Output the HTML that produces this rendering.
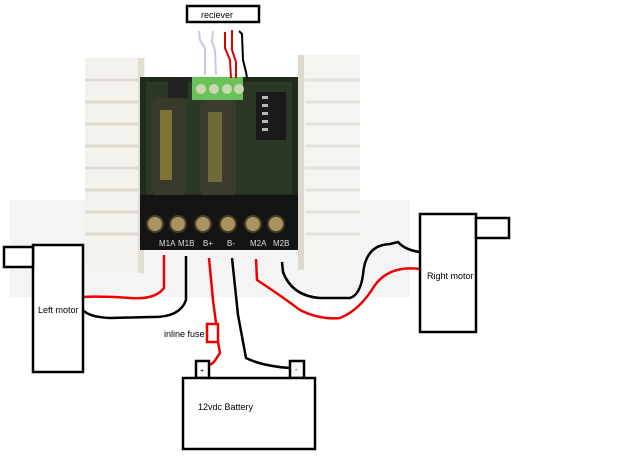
<!DOCTYPE html>
<html><head><meta charset="utf-8"><style>
html,body{margin:0;padding:0;background:#fff;}
svg{display:block;font-family:"Liberation Sans",sans-serif;}
</style></head><body>
<svg width="620" height="456" viewBox="0 0 620 456" xmlns="http://www.w3.org/2000/svg">
<rect width="620" height="456" fill="#fff"/>
<rect x="10" y="200" width="400" height="97" fill="#f4f4f4"/>
<rect x="85" y="58" width="60" height="212" fill="#f4f2ec"/>
<g stroke="#dcdad0" stroke-width="3">
<line x1="85" y1="80" x2="140" y2="80"/><line x1="85" y1="102" x2="140" y2="102"/><line x1="85" y1="124" x2="140" y2="124"/><line x1="85" y1="146" x2="140" y2="146"/><line x1="85" y1="168" x2="140" y2="168"/><line x1="85" y1="190" x2="140" y2="190"/><line x1="85" y1="212" x2="140" y2="212"/><line x1="85" y1="234" x2="140" y2="234"/>
</g>
<rect x="138" y="58" width="6" height="215" fill="#e2ded2"/>
<rect x="298" y="55" width="62" height="215" fill="#f6f4f0"/>
<g stroke="#e4e2dc" stroke-width="3">
<line x1="305" y1="80" x2="360" y2="80"/><line x1="305" y1="102" x2="360" y2="102"/><line x1="305" y1="124" x2="360" y2="124"/><line x1="305" y1="146" x2="360" y2="146"/><line x1="305" y1="168" x2="360" y2="168"/><line x1="305" y1="190" x2="360" y2="190"/><line x1="305" y1="212" x2="360" y2="212"/><line x1="305" y1="234" x2="360" y2="234"/>
</g>
<rect x="298" y="55" width="6" height="215" fill="#ddd9d0"/>
<rect x="140" y="77" width="158" height="173" fill="#1f2a1c"/>
<rect x="146" y="82" width="146" height="112" fill="#2b3826"/>
<rect x="152" y="98" width="34" height="98" rx="6" fill="#3a3a2a"/>
<rect x="160" y="110" width="12" height="70" fill="#7d7438"/>
<rect x="200" y="100" width="36" height="96" rx="6" fill="#3c3c2c"/>
<rect x="208" y="112" width="14" height="70" fill="#6f6a3a"/>
<rect x="168" y="78" width="20" height="20" fill="#222"/>
<rect x="192" y="77" width="51" height="23" fill="#6cc25a"/>
<circle cx="201" cy="89" r="5" fill="#c9d8b0"/><circle cx="214" cy="89" r="5" fill="#c9d8b0"/><circle cx="227" cy="89" r="5" fill="#c9d8b0"/><circle cx="239" cy="89" r="5" fill="#c9d8b0"/>
<rect x="256" y="92" width="30" height="48" fill="#1a1a1a"/>
<g fill="#bbb"><rect x="262" y="96" width="6" height="3"/><rect x="262" y="104" width="6" height="3"/><rect x="262" y="112" width="6" height="3"/><rect x="262" y="120" width="6" height="3"/><rect x="262" y="128" width="6" height="3"/></g>
<rect x="140" y="195" width="158" height="55" fill="#141414"/>
<g fill="#a69560" stroke="#4a3e22" stroke-width="2">
<circle cx="155" cy="224" r="8"/><circle cx="178" cy="224" r="8"/><circle cx="203" cy="224" r="8"/><circle cx="228" cy="224" r="8"/><circle cx="253" cy="224" r="8"/><circle cx="276" cy="224" r="8"/>
</g>
<g fill="#ddd" font-size="8"><text x="159" y="246">M1A</text><text x="178" y="246">M1B</text><text x="203" y="246">B+</text><text x="227" y="246">B-</text><text x="250" y="246">M2A</text><text x="273" y="246">M2B</text></g>
<rect x="187" y="6" width="72" height="16" fill="#fff" stroke="#000" stroke-width="2.5"/>
<text x="201" y="18" font-size="9">reciever</text>
<g fill="none" stroke-width="2">
<path d="M199 31 L200 40 L205 48 L205 75" stroke="#c8c8e0"/>
<path d="M213 31 L212 42 L215 50 L216 75" stroke="#c8c8e0"/>
<path d="M225 32 L225 48 L230 60 L231 78" stroke="#d00"/>
<path d="M232 30 L232 50 L236 62 L236 78" stroke="#d00"/>
<path d="M239 31 L242 34 L243 60 L246 72 L247 78" stroke="#000"/>
</g>
<g fill="none" stroke-width="2.5">
<path d="M164 255 L164 288 Q155 300 130 298 Q100 296 83 297" stroke="#e00"/>
<path d="M186 256 L186 300 Q180 318 150 317 L110 318 Q90 317 84 311" stroke="#000"/>
<path d="M209 258 L213 300 L216 323" stroke="#e00"/>
<path d="M218 342 L220 353 L214 362 L210 365" stroke="#e00"/>
<path d="M232 258 L238 315 L246 358 Q262 366 290 368" stroke="#000"/>
<path d="M256 259 L257 280 Q280 295 300 310 Q320 320 340 318 Q360 310 375 285 Q390 265 420 269" stroke="#e00"/>
<path d="M282 262 L283 272 Q292 296 320 298 L350 298 Q360 295 363 275 Q365 245 390 244 L398 242 Q405 250 420 252" stroke="#000"/>
</g>
<rect x="207" y="324" width="11" height="18" fill="none" stroke="#e00" stroke-width="2.5"/>
<text x="164" y="337" font-size="9">inline fuse</text>
<rect x="33" y="245" width="50" height="127" fill="#fff" stroke="#000" stroke-width="2.5"/>
<rect x="4" y="247" width="29" height="20" fill="#fff" stroke="#000" stroke-width="2.5"/>
<text x="38" y="313" font-size="9">Left motor</text>
<rect x="420" y="214" width="56" height="118" fill="#fff" stroke="#000" stroke-width="2.5"/>
<rect x="476" y="218" width="33" height="20" fill="#fff" stroke="#000" stroke-width="2.5"/>
<text x="427" y="279" font-size="9">Right motor</text>
<rect x="196" y="361" width="13" height="17" fill="#fff" stroke="#000" stroke-width="2.5"/>
<rect x="290" y="361" width="14" height="17" fill="#fff" stroke="#000" stroke-width="2.5"/>
<text x="200" y="373" font-size="7">+</text><text x="295" y="372" font-size="7">-</text>
<rect x="183" y="378" width="132" height="71" fill="#fff" stroke="#000" stroke-width="2.5"/>
<text x="198" y="410" font-size="9">12vdc Battery</text>
</svg>
</body></html>
